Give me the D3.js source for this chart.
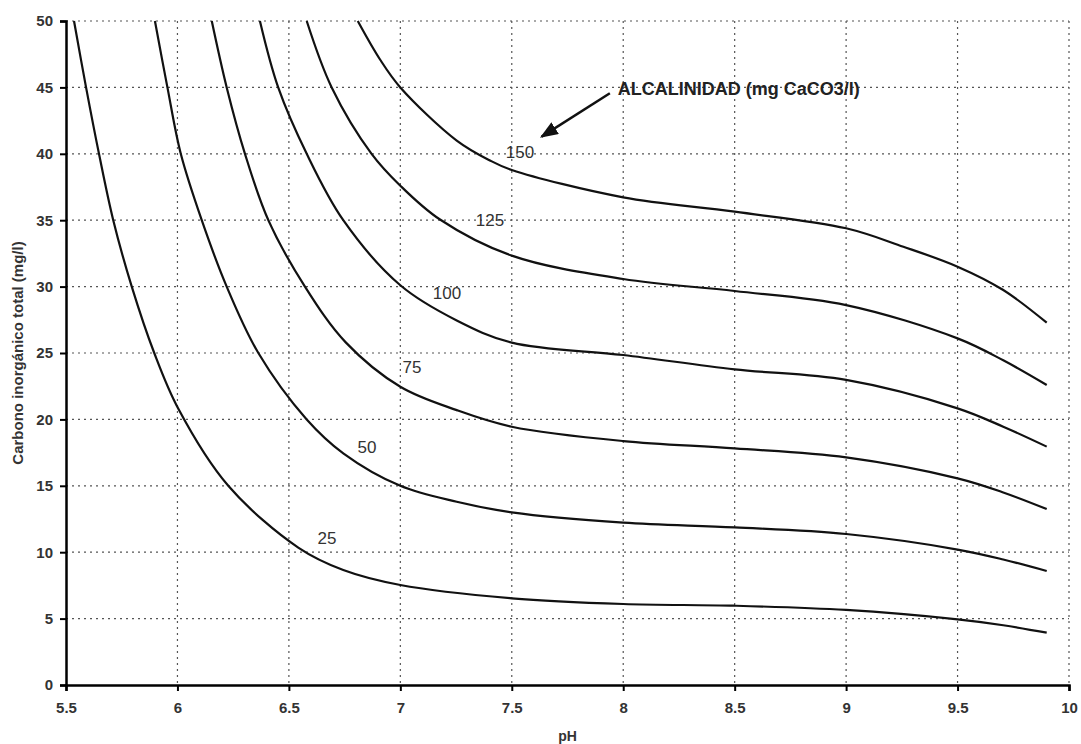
<!DOCTYPE html>
<html>
<head>
<meta charset="utf-8">
<script src="https://cdn.jsdelivr.net/npm/d3@7"></script>
<style>
  body { margin: 0; background: #fff; }
  text { font-family: "Liberation Sans", Arial, sans-serif; }
</style>
</head>
<body>
<div class="svg-container"></div>
<script>
// curves: pH -> total inorganic carbon (mg/l)
var ph25 = [5.536, 5.59, 5.648, 5.712, 5.795, 5.896, 6.004, 6.228, 6.542, 6.744, 7.0, 7.5, 8.0, 8.5, 9.0, 9.5, 9.705, 9.9];
var c25  = [50, 45, 40, 35, 30, 25, 20.8, 15, 10.35, 8.66, 7.53, 6.53, 6.1, 5.97, 5.65, 4.94, 4.5, 3.94];

var ph50 = [5.899, 5.955, 6.015, 6.109, 6.221, 6.363, 6.58, 6.744, 7.0, 7.253, 7.5, 8.0, 8.5, 9.0, 9.5, 9.705, 9.9];
var c50  = [50, 45, 40, 35, 30, 25, 20, 17.45, 15, 13.8, 13.0, 12.22, 11.87, 11.37, 10.2, 9.45, 8.58];

var ph75 = [6.154, 6.221, 6.303, 6.408, 6.572, 6.755, 7.0, 7.253, 7.5, 8.0, 8.5, 9.0, 9.5, 9.705, 9.9];
var c75  = [50, 45, 40, 35, 30, 25.8, 22.46, 20.7, 19.45, 18.37, 17.82, 17.14, 15.56, 14.5, 13.25];

var ph100 = [6.37, 6.452, 6.58, 6.744, 7.0, 7.253, 7.5, 8.0, 8.5, 9.0, 9.5, 9.705, 9.9];
var c100  = [50, 45, 40, 35, 30.1, 27.45, 25.78, 24.85, 23.77, 22.97, 20.83, 19.45, 17.95];

var ph125 = [6.58, 6.692, 6.871, 7.0, 7.178, 7.5, 8.0, 8.5, 9.0, 9.5, 9.705, 9.9];
var c125  = [50, 45, 40, 37.6, 35.05, 32.33, 30.57, 29.67, 28.61, 26.1, 24.45, 22.59];

var ph150 = [6.809, 6.909, 7.0, 7.253, 7.402, 7.5, 8.0, 8.5, 9.0, 9.257, 9.5, 9.705, 9.9];
var c150  = [50, 47.1, 45, 41.0, 39.5, 38.78, 36.72, 35.64, 34.39, 33.0, 31.5, 29.74, 27.28];

// curve labels (alkalinity, mg CaCO3/l) and where they sit
var labelNames = ["25", "50", "75", "100", "125", "150"];
var labelPh    = [6.671, 6.85, 7.052, 7.209, 7.402, 7.537];
var labelC     = [11.1, 17.9, 23.95, 29.5, 35.0, 40.14];

var xTicks = [5.5, 6, 6.5, 7, 7.5, 8, 8.5, 9, 9.5, 10];
var yTicks = [0, 5, 10, 15, 20, 25, 30, 35, 40, 45, 50];

var noteText = "ALCALINIDAD (mg CaCO3/l)";
var notePos = [7.976, 44.43];
var arrowFrom = [7.94, 44.56];
var arrowTo = [7.634, 41.29];

var width = 1081, height = 744;
var margin = {top: 21, right: 12, bottom: 59, left: 66};
var w = width - margin.left - margin.right;
var h = height - margin.top - margin.bottom;

var svg = d3.select(".svg-container").append("svg")
  .attr("width", width).attr("height", height);

svg.append("defs").append("marker")
  .attr("id", "head")
  .attr("markerUnits", "userSpaceOnUse")
  .attr("viewBox", "0 0 18 14")
  .attr("refX", 16).attr("refY", 7)
  .attr("markerWidth", 18).attr("markerHeight", 14)
  .attr("orient", "auto")
  .append("path").attr("d", "M0,0 L18,7 L0,14 Z").attr("fill", "#111");

var g = svg.append("g").attr("transform", "translate(" + margin.left + "," + margin.top + ")");

var x = d3.scaleLinear().domain([5.5, 10]).range([0, w]);
var y = d3.scaleLinear().domain([0, 50]).range([h, 0]);

// dotted grid
g.append("g").selectAll("line").data(xTicks.slice(1)).enter().append("line")
  .attr("x1", d => x(d)).attr("x2", d => x(d))
  .attr("y1", 0).attr("y2", h)
  .attr("stroke", "#555").attr("stroke-width", 1.2).attr("stroke-dasharray", "2,4");
g.append("g").selectAll("line").data(yTicks.slice(1)).enter().append("line")
  .attr("x1", 0).attr("x2", w)
  .attr("y1", d => y(d)).attr("y2", d => y(d))
  .attr("stroke", "#555").attr("stroke-width", 1.2).attr("stroke-dasharray", "2,4");

// axes
var xAxis = g.append("g").attr("transform", "translate(0," + h + ")")
  .call(d3.axisBottom(x).tickValues(xTicks).tickFormat(d3.format("")).tickSizeOuter(0).tickSize(6).tickPadding(11));
var yAxis = g.append("g")
  .call(d3.axisLeft(y).tickValues(yTicks).tickSizeOuter(0).tickSize(6).tickPadding(7));

[xAxis, yAxis].forEach(a => {
  a.select(".domain").attr("stroke", "#000").attr("stroke-width", 2.5);
  a.selectAll(".tick line").attr("stroke", "#000").attr("stroke-width", 2);
  a.selectAll(".tick text")
    .attr("fill", "#333").attr("font-size", 15).attr("font-weight", "bold")
    .style("font-family", "'Liberation Sans', Arial, sans-serif");
});

// curves
var series = [[ph25, c25], [ph50, c50], [ph75, c75], [ph100, c100], [ph125, c125], [ph150, c150]];
var line = d3.line().x(d => x(d[0])).y(d => y(d[1])).curve(d3.curveCatmullRom.alpha(0.5));

g.append("g").selectAll("path").data(series).enter().append("path")
  .attr("d", s => line(s[0].map((p, i) => [p, s[1][i]])))
  .attr("fill", "none").attr("stroke", "#111").attr("stroke-width", 2.2);

g.append("g").selectAll("text").data(labelNames).enter().append("text")
  .attr("x", (d, i) => x(labelPh[i])).attr("y", (d, i) => y(labelC[i]))
  .attr("text-anchor", "middle").attr("dy", "0.36em")
  .attr("font-size", 17).attr("fill", "#333")
  .text(d => d);

// annotation
g.append("line")
  .attr("x1", x(arrowFrom[0])).attr("y1", y(arrowFrom[1]))
  .attr("x2", x(arrowTo[0])).attr("y2", y(arrowTo[1]))
  .attr("stroke", "#111").attr("stroke-width", 2.5)
  .attr("marker-end", "url(#head)");

g.append("text")
  .attr("x", x(notePos[0])).attr("y", y(notePos[1]))
  .attr("font-size", 18).attr("font-weight", "bold").attr("fill", "#222")
  .text(noteText);

// axis titles
g.append("text")
  .attr("x", w / 2).attr("y", h + 56)
  .attr("text-anchor", "middle").attr("font-size", 14).attr("font-weight", "bold").attr("fill", "#333")
  .text("pH");

g.append("text")
  .attr("transform", "translate(" + (18 - margin.left) + "," + (h / 2) + ") rotate(-90)")
  .attr("text-anchor", "middle").attr("dy", "0.35em")
  .attr("font-size", 15).attr("font-weight", "bold").attr("fill", "#333")
  .text("Carbono inorgánico total (mg/l)");
</script>
</body>
</html>
